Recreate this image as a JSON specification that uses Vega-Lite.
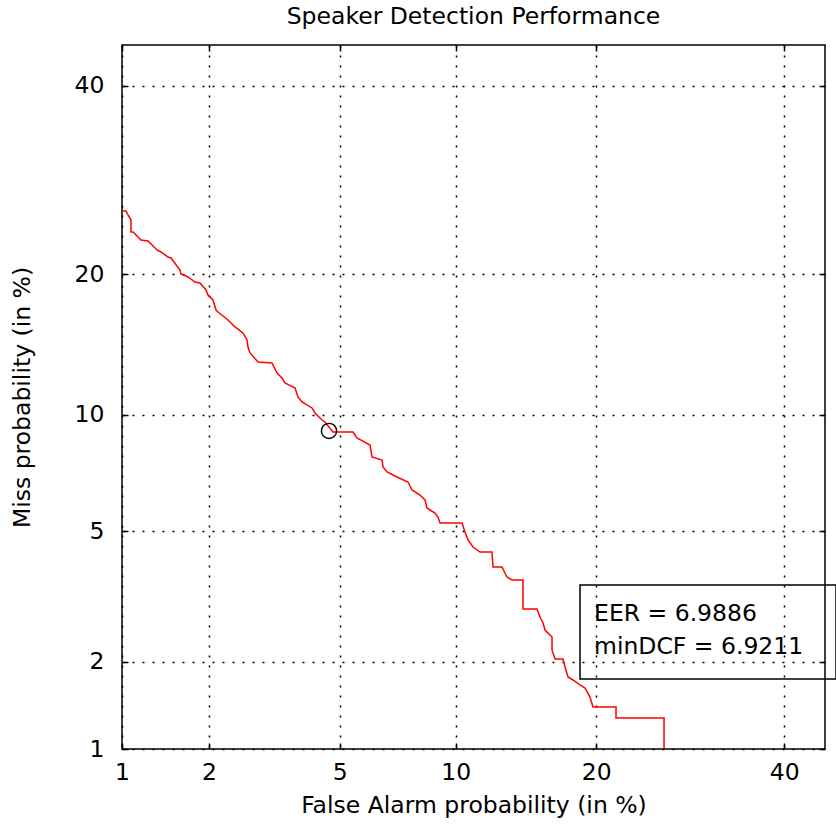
{
  "$schema": "https://vega.github.io/schema/vega-lite/v6.json",
  "width": 703,
  "height": 704,
  "autosize": "none",
  "padding": {"left": 122, "top": 45, "right": 11, "bottom": 75},
  "background": "white",
  "title": {"text": "Speaker Detection Performance", "fontSize": 23.5, "font": "DejaVu Sans", "fontWeight": "normal", "color": "black", "offset": 16},
  "config": {
    "view": {"stroke": "black", "strokeWidth": 1.5},
    "axis": {
      "domain": false,
      "grid": true,
      "gridColor": "black",
      "gridDash": [2, 8],
      "gridWidth": 1.5,
      "gridOpacity": 1,
      "ticks": true,
      "tickSize": -6,
      "tickColor": "black",
      "tickWidth": 1.5,
      "labelFlush": false,
      "labelFont": "DejaVu Sans",
      "labelFontSize": 23.5,
      "labelColor": "black",
      "titleFont": "DejaVu Sans",
      "titleFontSize": 23.5,
      "titleFontWeight": "normal",
      "titleColor": "black"
    }
  },
  "datasets": {
    "det": [
      {"i": 1, "fa": -2.3232, "miss": -0.6445},
      {"i": 2, "fa": -2.3138, "miss": -0.6445},
      {"i": 3, "fa": -2.3075, "miss": -0.6570},
      {"i": 4, "fa": -2.2981, "miss": -0.6727},
      {"i": 5, "fa": -2.2981, "miss": -0.7102},
      {"i": 6, "fa": -2.2919, "miss": -0.7102},
      {"i": 7, "fa": -2.2668, "miss": -0.7352},
      {"i": 8, "fa": -2.2449, "miss": -0.7383},
      {"i": 9, "fa": -2.2167, "miss": -0.7664},
      {"i": 10, "fa": -2.2042, "miss": -0.7727},
      {"i": 11, "fa": -2.1823, "miss": -0.7883},
      {"i": 12, "fa": -2.1729, "miss": -0.7914},
      {"i": 13, "fa": -2.1447, "miss": -0.8290},
      {"i": 14, "fa": -2.1416, "miss": -0.8415},
      {"i": 15, "fa": -2.1197, "miss": -0.8508},
      {"i": 16, "fa": -2.0978, "miss": -0.8665},
      {"i": 17, "fa": -2.0821, "miss": -0.8696},
      {"i": 18, "fa": -2.0634, "miss": -0.8915},
      {"i": 19, "fa": -2.0571, "miss": -0.9071},
      {"i": 20, "fa": -2.0414, "miss": -0.9227},
      {"i": 21, "fa": -2.0320, "miss": -0.9540},
      {"i": 22, "fa": -2.0258, "miss": -0.9602},
      {"i": 23, "fa": -1.9945, "miss": -0.9853},
      {"i": 24, "fa": -1.9726, "miss": -1.0071},
      {"i": 25, "fa": -1.9475, "miss": -1.0259},
      {"i": 26, "fa": -1.9350, "miss": -1.0478},
      {"i": 27, "fa": -1.9319, "miss": -1.0697},
      {"i": 28, "fa": -1.9256, "miss": -1.0884},
      {"i": 29, "fa": -1.9006, "miss": -1.1165},
      {"i": 30, "fa": -1.8567, "miss": -1.1197},
      {"i": 31, "fa": -1.8411, "miss": -1.1509},
      {"i": 32, "fa": -1.8254, "miss": -1.1666},
      {"i": 33, "fa": -1.8160, "miss": -1.1822},
      {"i": 34, "fa": -1.7847, "miss": -1.1978},
      {"i": 35, "fa": -1.7754, "miss": -1.2260},
      {"i": 36, "fa": -1.7628, "miss": -1.2416},
      {"i": 37, "fa": -1.7315, "miss": -1.2603},
      {"i": 38, "fa": -1.7221, "miss": -1.2760},
      {"i": 39, "fa": -1.7002, "miss": -1.2979},
      {"i": 40, "fa": -1.6908, "miss": -1.3041},
      {"i": 41, "fa": -1.6658, "miss": -1.3354},
      {"i": 42, "fa": -1.6032, "miss": -1.3354},
      {"i": 43, "fa": -1.5907, "miss": -1.3541},
      {"i": 44, "fa": -1.5500, "miss": -1.3760},
      {"i": 45, "fa": -1.5437, "miss": -1.4135},
      {"i": 46, "fa": -1.5124, "miss": -1.4229},
      {"i": 47, "fa": -1.5093, "miss": -1.4448},
      {"i": 48, "fa": -1.4967, "miss": -1.4604},
      {"i": 49, "fa": -1.4654, "miss": -1.4760},
      {"i": 50, "fa": -1.4310, "miss": -1.4917},
      {"i": 51, "fa": -1.4185, "miss": -1.5167},
      {"i": 52, "fa": -1.3934, "miss": -1.5323},
      {"i": 53, "fa": -1.3778, "miss": -1.5479},
      {"i": 54, "fa": -1.3715, "miss": -1.5729},
      {"i": 55, "fa": -1.3621, "miss": -1.5792},
      {"i": 56, "fa": -1.3465, "miss": -1.5886},
      {"i": 57, "fa": -1.3371, "miss": -1.6011},
      {"i": 58, "fa": -1.3308, "miss": -1.6198},
      {"i": 59, "fa": -1.2620, "miss": -1.6198},
      {"i": 60, "fa": -1.2526, "miss": -1.6480},
      {"i": 61, "fa": -1.2432, "miss": -1.6730},
      {"i": 62, "fa": -1.2275, "miss": -1.6949},
      {"i": 63, "fa": -1.2056, "miss": -1.7105},
      {"i": 64, "fa": -1.1681, "miss": -1.7105},
      {"i": 65, "fa": -1.1649, "miss": -1.7574},
      {"i": 66, "fa": -1.1368, "miss": -1.7574},
      {"i": 67, "fa": -1.1274, "miss": -1.7761},
      {"i": 68, "fa": -1.1211, "miss": -1.7886},
      {"i": 69, "fa": -1.1054, "miss": -1.7980},
      {"i": 70, "fa": -1.0710, "miss": -1.7980},
      {"i": 71, "fa": -1.0710, "miss": -1.8887},
      {"i": 72, "fa": -1.0272, "miss": -1.8887},
      {"i": 73, "fa": -1.0178, "miss": -1.9137},
      {"i": 74, "fa": -1.0084, "miss": -1.9324},
      {"i": 75, "fa": -1.0021, "miss": -1.9543},
      {"i": 76, "fa": -0.9802, "miss": -1.9762},
      {"i": 77, "fa": -0.9802, "miss": -2.0168},
      {"i": 78, "fa": -0.9708, "miss": -2.0450},
      {"i": 79, "fa": -0.9458, "miss": -2.0450},
      {"i": 80, "fa": -0.9395, "miss": -2.0700},
      {"i": 81, "fa": -0.9301, "miss": -2.1012},
      {"i": 82, "fa": -0.9145, "miss": -2.1106},
      {"i": 83, "fa": -0.8926, "miss": -2.1262},
      {"i": 84, "fa": -0.8769, "miss": -2.1356},
      {"i": 85, "fa": -0.8613, "miss": -2.1638},
      {"i": 86, "fa": -0.8519, "miss": -2.1950},
      {"i": 87, "fa": -0.7799, "miss": -2.1950},
      {"i": 88, "fa": -0.7799, "miss": -2.2294},
      {"i": 89, "fa": -0.6296, "miss": -2.2294},
      {"i": 90, "fa": -0.6296, "miss": -2.3263}
    ]
  },
  "encoding": {
    "x": {"type": "quantitative", "scale": {"domain": [-2.3263, -0.1257], "nice": false, "zero": false}},
    "y": {"type": "quantitative", "scale": {"domain": [-2.3263, -0.1257], "nice": false, "zero": false}}
  },
  "layer": [
    {
      "data": {"name": "det"},
      "mark": {"type": "line", "color": "#ff0000", "strokeWidth": 1.5},
      "encoding": {
        "x": {"field": "fa", "type": "quantitative", "title": "False Alarm probability (in %)",
          "axis": {"values": [-2.3263, -2.0537, -1.6449, -1.2816, -0.8416, -0.2533],
            "labelExpr": "datum.value < -2.2 ? '1' : datum.value < -1.9 ? '2' : datum.value < -1.5 ? '5' : datum.value < -1.1 ? '10' : datum.value < -0.6 ? '20' : '40'",
            "labelPadding": 17, "titlePadding": 10}},
        "y": {"field": "miss", "type": "quantitative", "title": "Miss probability (in %)",
          "axis": {"values": [-2.3263, -2.0537, -1.6449, -1.2816, -0.8416, -0.2533],
            "labelExpr": "datum.value < -2.2 ? '1' : datum.value < -1.9 ? '2' : datum.value < -1.5 ? '5' : datum.value < -1.1 ? '10' : datum.value < -0.6 ? '20' : '40'",
            "labelPadding": 24, "titlePadding": 40}},
        "order": {"field": "i", "type": "quantitative"}
      }
    },
    {
      "data": {"values": [{"fa": -1.6783, "miss": -1.3322}]},
      "mark": {"type": "point", "shape": "circle", "filled": false, "color": "black", "size": 230, "strokeWidth": 1.4, "opacity": 1},
      "encoding": {
        "x": {"field": "fa", "type": "quantitative",
          "axis": {"orient": "top", "values": [-2.3263, -2.0537, -1.6449, -1.2816, -0.8416, -0.2533], "labels": false, "grid": false, "title": null}},
        "y": {"field": "miss", "type": "quantitative",
          "axis": {"orient": "right", "values": [-2.3263, -2.0537, -1.6449, -1.2816, -0.8416, -0.2533], "labels": false, "grid": false, "title": null}}
      }
    },
    {
      "data": {"values": [{"x1": -0.8926, "x2": -0.0912, "y1": -1.8136, "y2": -2.1075}]},
      "mark": {"type": "rect", "fill": null, "stroke": "black", "strokeWidth": 1.5, "clip": false},
      "encoding": {
        "x": {"field": "x1", "type": "quantitative", "axis": null},
        "x2": {"field": "x2"},
        "y": {"field": "y1", "type": "quantitative", "axis": null},
        "y2": {"field": "y2"}
      }
    },
    {
      "data": {"values": [
        {"label": "EER = 6.9886", "x": -0.8487, "y": -1.9262},
        {"label": "minDCF = 6.9211", "x": -0.8487, "y": -2.0293}
      ]},
      "mark": {"type": "text", "align": "left", "baseline": "alphabetic", "font": "DejaVu Sans", "fontSize": 23.5, "color": "black", "clip": false},
      "encoding": {
        "x": {"field": "x", "type": "quantitative", "axis": null},
        "y": {"field": "y", "type": "quantitative", "axis": null},
        "text": {"field": "label"}
      }
    }
  ],
  "resolve": {"axis": {"x": "independent", "y": "independent"}}
}
